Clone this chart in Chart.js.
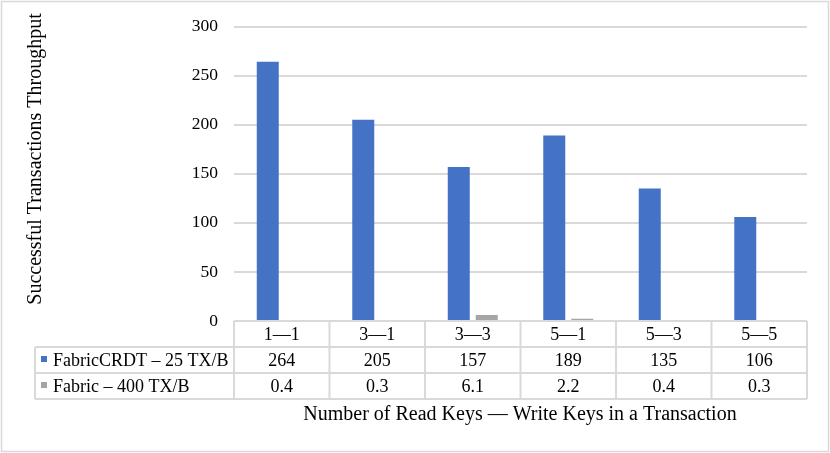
<!DOCTYPE html>
<html>
<head>
<meta charset="utf-8">
<script src="https://cdn.jsdelivr.net/npm/chart.js@4"></script>
<style>
  html, body { margin: 0; padding: 0; background: #fff; }
  #wrap { width: 830px; height: 453px; position: relative; }
</style>
</head>
<body>
<div id="wrap"><canvas id="chart" width="830" height="453"></canvas></div>
<script>
// Data
const categories = ['1\u20141', '3\u20141', '3\u20143', '5\u20141', '5\u20143', '5\u20145'];
const crdtLabel = 'FabricCRDT \u2013 25 TX/B';
const fabricLabel = 'Fabric \u2013 400 TX/B';
const crdtValues = [264, 205, 157, 189, 135, 106];
const fabricValues = [0.4, 0.3, 6.1, 2.2, 0.4, 0.3];
const yTicks = [0, 50, 100, 150, 200, 250, 300];

const blue = '#4472C4';
const gray = '#A5A5A5';
const lineGray = '#D9D9D9';
const serif = '"Liberation Serif", "Times New Roman", serif';

// Layout (px)
const plotLeft = 234, plotRight = 807, plotTop = 23, plotBottom = 321;
const rowH = 26;
const tableLeft = 35;

// Draws frame, data table and axis titles (Excel-style chart with data table)
const tablePlugin = {
  id: 'tablePlugin',
  beforeDraw(chart) {
    const { ctx } = chart;
    ctx.save();
    ctx.fillStyle = '#fff';
    ctx.fillRect(0, 0, chart.width, chart.height);
    ctx.strokeStyle = lineGray;
    ctx.lineWidth = 1.5;
    ctx.strokeRect(1.5, 1.5, chart.width - 3, chart.height - 3);
    ctx.restore();
  },
  afterDraw(chart) {
    const { ctx, chartArea } = chart;
    const x = chart.scales.x;
    const n = categories.length;
    const cw = (chartArea.right - chartArea.left) / n;
    const top = chartArea.bottom;
    const rows = [top, top + rowH, top + 2 * rowH, top + 3 * rowH];

    ctx.save();
    ctx.strokeStyle = lineGray;
    ctx.lineWidth = 2;
    ctx.beginPath();
    // horizontal lines
    ctx.moveTo(chartArea.left, rows[0]); ctx.lineTo(chartArea.right, rows[0]);
    for (let r = 1; r < 4; r++) {
      ctx.moveTo(tableLeft, rows[r]); ctx.lineTo(chartArea.right, rows[r]);
    }
    // vertical lines
    for (let i = 0; i <= n; i++) {
      const vx = chartArea.left + i * cw;
      ctx.moveTo(vx, rows[0]); ctx.lineTo(vx, rows[3]);
    }
    ctx.moveTo(tableLeft, rows[1]); ctx.lineTo(tableLeft, rows[3]);
    ctx.stroke();

    // cell texts
    ctx.fillStyle = '#000';
    ctx.font = '18px ' + serif;
    ctx.textAlign = 'center';
    ctx.textBaseline = 'middle';
    categories.forEach((c, i) => {
      const cx = x.getPixelForValue(i);
      ctx.fillText(c, cx, rows[0] + rowH / 2 + 1);
      ctx.fillText(String(crdtValues[i]), cx, rows[1] + rowH / 2 + 1);
      ctx.fillText(fabricValues[i].toFixed(1), cx, rows[2] + rowH / 2 + 1);
    });

    // series legend keys in first column
    ctx.textAlign = 'left';
    ctx.fillStyle = blue;
    ctx.fillRect(41, rows[1] + 9, 6, 6);
    ctx.fillStyle = gray;
    ctx.fillRect(41, rows[2] + 9, 6, 6);
    ctx.fillStyle = '#000';
    ctx.fillText(crdtLabel, 53, rows[1] + rowH / 2 + 1);
    ctx.fillText(fabricLabel, 53, rows[2] + rowH / 2 + 1);

    // axis titles
    ctx.font = '20px ' + serif;
    ctx.textAlign = 'center';
    ctx.fillText('Number of Read Keys \u2014 Write Keys in a Transaction', 520, 415);
    ctx.translate(36, 159);
    ctx.rotate(-Math.PI / 2);
    ctx.fillText('Successful Transactions Throughput', 0, 0);
    ctx.restore();
  }
};

new Chart(document.getElementById('chart'), {
  type: 'bar',
  data: {
    labels: categories,
    datasets: [
      { label: crdtLabel, data: crdtValues, backgroundColor: blue,
        barPercentage: 0.786, categoryPercentage: 0.586 },
      { label: fabricLabel, data: fabricValues, backgroundColor: gray,
        barPercentage: 0.786, categoryPercentage: 0.586 }
    ]
  },
  options: {
    responsive: false,
    animation: false,
    events: [],
    layout: { padding: { top: plotTop, right: 830 - plotRight, bottom: 453 - plotBottom, left: 0 } },
    plugins: { legend: { display: false }, tooltip: { enabled: false } },
    scales: {
      x: { display: false },
      y: {
        min: 0, max: 300,
        afterFit(scale) { scale.width = plotLeft; },
        afterBuildTicks(scale) { scale.ticks = yTicks.map(v => ({ value: v })); },
        border: { display: false },
        grid: { color: lineGray, lineWidth: 2, drawTicks: false },
        ticks: { color: '#000', padding: 16, font: { family: serif, size: 17.5 } }
      }
    }
  },
  plugins: [tablePlugin]
});
</script>
</body>
</html>
